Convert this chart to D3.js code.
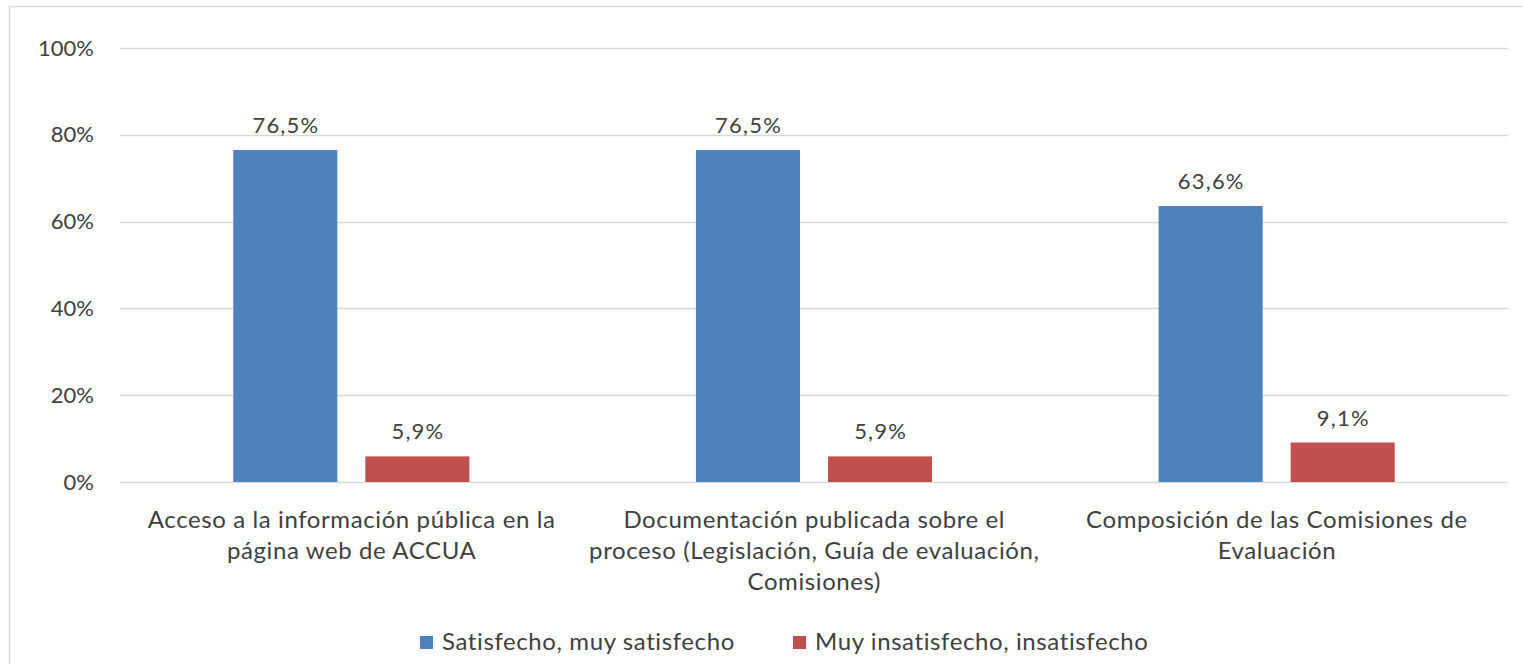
<!DOCTYPE html>
<html>
<head>
<meta charset="utf-8">
<script src="https://cdn.jsdelivr.net/npm/d3@7"></script>
<style>
  html, body { margin: 0; padding: 0; background: #fff; }
  svg { display: block; }
  text { font-family: Lato, "Open Sans", sans-serif; fill: #404040; }
</style>
</head>
<body>
<svg id="chart" width="1523" height="664"></svg>
<script>
const categories = [
  "Acceso a la información pública en la\npágina web de ACCUA",
  "Documentación publicada sobre el\nproceso (Legislación, Guía de evaluación,\nComisiones)",
  "Composición de las Comisiones de\nEvaluación"
];
const seriesNames = ["Satisfecho, muy satisfecho", "Muy insatisfecho, insatisfecho"];
const satisfecho = [76.5, 76.5, 63.6];
const insatisfecho = [5.9, 5.9, 9.1];
const yTicks = [0, 20, 40, 60, 80, 100];
const colors = ["#4F81BD", "#C0504D"];

const svg = d3.select("#chart");
const W = 1523, H = 664;
const margin = { left: 120, right: 15, top: 48, bottom: 182 };

// chart frame
svg.append("rect")
  .attr("x", 9.5).attr("y", 6.5)
  .attr("width", W + 20).attr("height", H + 20)
  .attr("fill", "#fff").attr("stroke", "#d9d9d9").attr("stroke-width", 1.5);

const x0 = d3.scaleBand().domain(categories).range([margin.left, W - margin.right]).padding(0);
const x1 = d3.scaleBand().domain(seriesNames).range([0, x0.bandwidth()])
  .paddingInner(0.212).paddingOuter(0.858);
const y = d3.scaleLinear().domain([0, 100]).range([H - margin.bottom, margin.top]);

// gridlines
svg.append("g").selectAll("line").data(yTicks).join("line")
  .attr("x1", margin.left).attr("x2", W - margin.right)
  .attr("y1", d => Math.round(y(d)) + 0.5).attr("y2", d => Math.round(y(d)) + 0.5)
  .attr("stroke", "#d9d9d9").attr("stroke-width", 1.5);

// y axis
const yAxis = d3.axisLeft(y).tickValues(yTicks).tickFormat(d => d + "%").tickSize(0).tickPadding(26);
const gy = svg.append("g").attr("transform", `translate(${margin.left},0)`).call(yAxis);
gy.select(".domain").remove();
gy.selectAll("text").style("font-size", "22px").attr("fill", "#404040")
  .style("font-family", "Lato, 'Open Sans', sans-serif");

const seriesValues = [satisfecho, insatisfecho];
const data = [];
categories.forEach((c, i) => {
  seriesNames.forEach((s, j) => data.push({ cat: c, series: s, value: seriesValues[j][i], color: colors[j] }));
});

svg.append("g").selectAll("rect").data(data).join("rect")
  .attr("x", d => x0(d.cat) + x1(d.series))
  .attr("y", d => y(d.value))
  .attr("width", x1.bandwidth())
  .attr("height", d => y(0) - y(d.value))
  .attr("fill", d => d.color);

// value labels
svg.append("g").selectAll("text").data(data).join("text")
  .attr("x", d => x0(d.cat) + x1(d.series) + x1.bandwidth() / 2 + 0.6)
  .attr("y", d => y(d.value) - 17)
  .attr("text-anchor", "middle")
  .style("font-size", "22px")
  .style("letter-spacing", "1.2px")
  .text(d => d3.format(".1f")(d.value).replace(".", ",") + "%");

// category labels
const catG = svg.append("g");
categories.forEach(c => {
  const lines = c.split("\n");
  const cx = x0(c) + x0.bandwidth() / 2 + 0.3;
  const t = catG.append("text")
    .attr("x", cx)
    .attr("y", y(0) + 46)
    .attr("text-anchor", "middle")
    .style("font-size", "24px")
    .style("letter-spacing", "0.6px");
  lines.forEach((ln, k) => {
    t.append("tspan").attr("x", cx).attr("dy", k === 0 ? 0 : 31).text(ln);
  });
});

// legend
const legend = svg.append("g");
const legendItems = [{ x: 420 }, { x: 793 }];
seriesNames.forEach((s, j) => {
  const lx = legendItems[j].x;
  legend.append("rect").attr("x", lx).attr("y", 636).attr("width", 13).attr("height", 13).attr("fill", colors[j]);
  legend.append("text").attr("x", lx + 22).attr("y", 650).style("font-size", "24px")
    .style("letter-spacing", "0.6px").text(s);
});
</script>
</body>
</html>
